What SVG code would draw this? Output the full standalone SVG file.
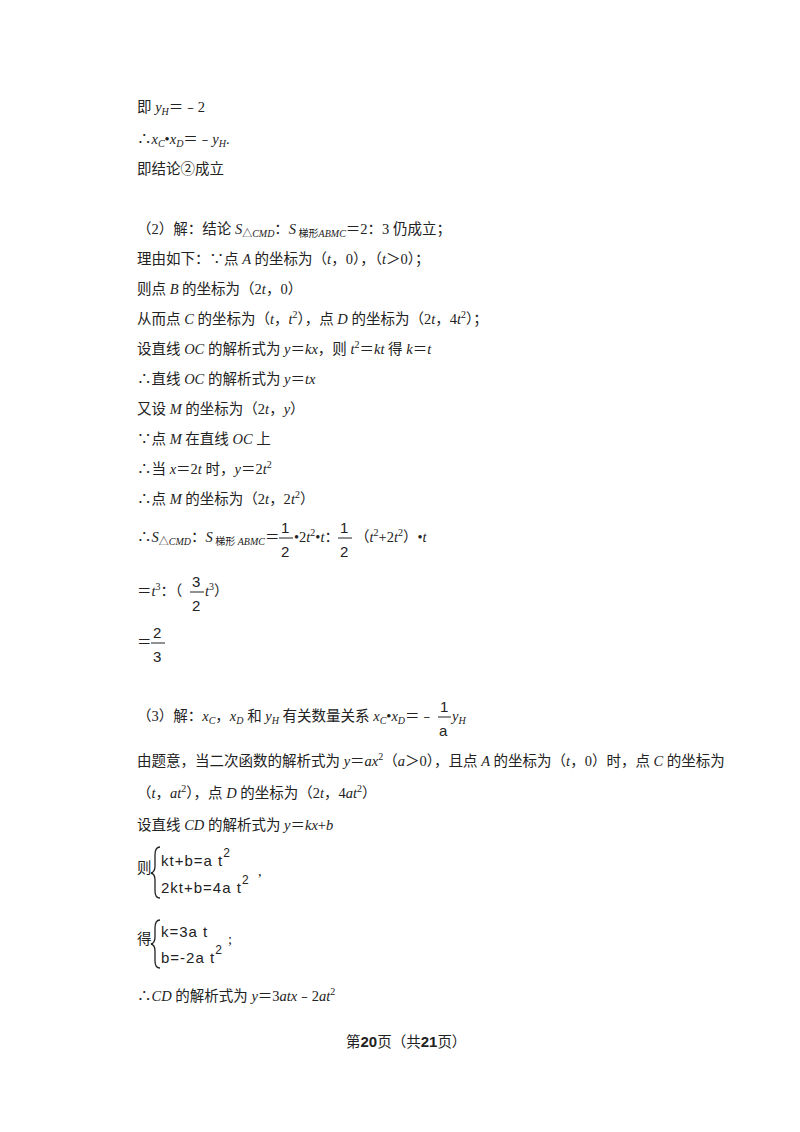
<svg xmlns="http://www.w3.org/2000/svg" width="800" height="1132" viewBox="0 0 800 1132">
<style>
text{font-family:"Liberation Serif","Noto Sans CJK SC",serif;font-size:14.5px;fill:#222}
.i{font-style:italic}
.s{font-size:10px}
.m{font-family:"Liberation Sans","Noto Sans CJK SC",sans-serif;font-size:15px}
.b{font-weight:bold;font-family:"Liberation Sans","Noto Sans CJK SC",sans-serif}
</style>
<rect width="800" height="1132" fill="#fff"/>
<text x="137" y="112">即 <tspan class="i">y</tspan><tspan class="i s" dy="3">H</tspan><tspan dy="-3">＝﹣2</tspan></text>
<text x="137" y="144">∴<tspan class="i">x</tspan><tspan class="i s" dy="3">C</tspan><tspan dy="-3">•</tspan><tspan class="i">x</tspan><tspan class="i s" dy="3">D</tspan><tspan dy="-3">＝﹣</tspan><tspan class="i">y</tspan><tspan class="i s" dy="3">H</tspan><tspan dy="-3">.</tspan></text>
<text x="137" y="174">即结论②成立</text>
<text x="137" y="234">（2）解：结论 <tspan class="i">S</tspan><tspan class="s" dy="3">△</tspan><tspan class="i s">CMD</tspan><tspan dy="-3">：</tspan><tspan class="i">S</tspan><tspan class="s" dy="3"> 梯形</tspan><tspan class="i s">ABMC</tspan><tspan dy="-3">＝2：3 仍成立；</tspan></text>
<text x="137" y="264">理由如下：∵点 <tspan class="i">A</tspan> 的坐标为（<tspan class="i">t</tspan>，0），（<tspan class="i">t</tspan>＞0）；</text>
<text x="137" y="294">则点 <tspan class="i">B</tspan> 的坐标为（2<tspan class="i">t</tspan>，0）</text>
<text x="137" y="324">从而点 <tspan class="i">C</tspan> 的坐标为（<tspan class="i">t</tspan>，<tspan class="i">t</tspan><tspan class="s" dy="-6">2</tspan><tspan dy="6">），点 </tspan><tspan class="i">D</tspan> 的坐标为（2<tspan class="i">t</tspan>，4<tspan class="i">t</tspan><tspan class="s" dy="-6">2</tspan><tspan dy="6">）；</tspan></text>
<text x="137" y="354">设直线 <tspan class="i">OC</tspan> 的解析式为 <tspan class="i">y</tspan>＝<tspan class="i">kx</tspan>，则 <tspan class="i">t</tspan><tspan class="s" dy="-6">2</tspan><tspan dy="6">＝</tspan><tspan class="i">kt</tspan> 得 <tspan class="i">k</tspan>＝<tspan class="i">t</tspan></text>
<text x="137" y="384">∴直线 <tspan class="i">OC</tspan> 的解析式为 <tspan class="i">y</tspan>＝<tspan class="i">tx</tspan></text>
<text x="137" y="414">又设 <tspan class="i">M</tspan> 的坐标为（2<tspan class="i">t</tspan>，<tspan class="i">y</tspan>）</text>
<text x="137" y="444">∵点 <tspan class="i">M</tspan> 在直线 <tspan class="i">OC</tspan> 上</text>
<text x="137" y="474">∴当 <tspan class="i">x</tspan>＝2<tspan class="i">t</tspan> 时，<tspan class="i">y</tspan>＝2<tspan class="i">t</tspan><tspan class="s" dy="-6">2</tspan></text>
<text x="137" y="504">∴点 <tspan class="i">M</tspan> 的坐标为（2<tspan class="i">t</tspan>，2<tspan class="i">t</tspan><tspan class="s" dy="-6">2</tspan><tspan dy="6">）</tspan></text>
<text x="137" y="542">∴<tspan class="i">S</tspan><tspan class="s" dy="3">△</tspan><tspan class="i s">CMD</tspan><tspan dy="-3">：</tspan><tspan class="i">S</tspan><tspan class="s" dy="3"> 梯形 </tspan><tspan class="i s">ABMC</tspan><tspan dy="-3">＝</tspan></text>
<text x="281" y="533" class="m">1</text><line x1="279" y1="538" x2="293" y2="538" stroke="#222"/><text x="281" y="557" class="m">2</text>
<text x="294" y="542">•2<tspan class="i">t</tspan><tspan class="s" dy="-6">2</tspan><tspan dy="6">•</tspan><tspan class="i">t</tspan>：</text>
<text x="340" y="533" class="m">1</text><line x1="338" y1="538" x2="352" y2="538" stroke="#222"/><text x="340" y="557" class="m">2</text>
<text x="355" y="542">（<tspan class="i">t</tspan><tspan class="s" dy="-6">2</tspan><tspan dy="6">+2</tspan><tspan class="i">t</tspan><tspan class="s" dy="-6">2</tspan><tspan dy="6">）•</tspan><tspan class="i">t</tspan></text>
<text x="137" y="596">＝<tspan class="i">t</tspan><tspan class="s" dy="-6">3</tspan><tspan dy="6">：（</tspan></text>
<text x="192" y="587" class="m">3</text><line x1="190" y1="592" x2="204" y2="592" stroke="#222"/><text x="192" y="611" class="m">2</text>
<text x="205" y="596"><tspan class="i">t</tspan><tspan class="s" dy="-6">3</tspan><tspan dy="6">）</tspan></text>
<text x="137" y="647">＝</text>
<text x="153" y="638" class="m">2</text><line x1="151" y1="643" x2="165" y2="643" stroke="#222"/><text x="153" y="662" class="m">3</text>
<text x="137" y="721">（3）解：<tspan class="i">x</tspan><tspan class="i s" dy="3">C</tspan><tspan dy="-3">，</tspan><tspan class="i">x</tspan><tspan class="i s" dy="3">D</tspan><tspan dy="-3"> 和 </tspan><tspan class="i">y</tspan><tspan class="i s" dy="3">H</tspan><tspan dy="-3"> 有关数量关系 </tspan><tspan class="i">x</tspan><tspan class="i s" dy="3">C</tspan><tspan dy="-3">•</tspan><tspan class="i">x</tspan><tspan class="i s" dy="3">D</tspan><tspan dy="-3">＝﹣</tspan></text>
<text x="440" y="712" class="m">1</text><line x1="438" y1="717" x2="451" y2="717" stroke="#222"/><text x="439" y="736" class="m">a</text>
<text x="452" y="721" class="i">y<tspan class="s" dy="3">H</tspan></text>
<text x="137" y="766">由题意，当二次函数的解析式为 <tspan class="i">y</tspan>＝<tspan class="i">ax</tspan><tspan class="s" dy="-6">2</tspan><tspan dy="6">（</tspan><tspan class="i">a</tspan>＞0），且点 <tspan class="i">A</tspan> 的坐标为（<tspan class="i">t</tspan>，0）时，点 <tspan class="i">C</tspan> 的坐标为</text>
<text x="137" y="798">（<tspan class="i">t</tspan>，<tspan class="i">at</tspan><tspan class="s" dy="-6">2</tspan><tspan dy="6">），点 </tspan><tspan class="i">D</tspan> 的坐标为（2<tspan class="i">t</tspan>，4<tspan class="i">at</tspan><tspan class="s" dy="-6">2</tspan><tspan dy="6">）</tspan></text>
<text x="137" y="830">设直线 <tspan class="i">CD</tspan> 的解析式为 <tspan class="i">y</tspan>＝<tspan class="i">kx</tspan>+<tspan class="i">b</tspan></text>
<text x="137" y="873">则</text>
<path d="M160 847 Q155 847 155 855 L155 866 Q155 872 151 873 Q155 874 155 880 L155 891 Q155 898 160 898" fill="none" stroke="#222" stroke-width="1.3"/>
<text x="161" y="866" class="m" letter-spacing="1">kt+b=a t<tspan dy="-9" font-size="12">2</tspan></text>
<text x="161" y="893" class="m" letter-spacing="1">2kt+b=4a t<tspan dy="-9" font-size="12">2</tspan></text>
<text x="258" y="876">,</text>
<text x="137" y="944">得</text>
<path d="M160 920 Q155 920 155 928 L155 937 Q155 943 151 944 Q155 945 155 951 L155 961 Q155 968 160 968" fill="none" stroke="#222" stroke-width="1.3"/>
<text x="161" y="937" class="m" letter-spacing="1">k=3a t</text>
<text x="161" y="963" class="m" letter-spacing="1">b=-2a t<tspan dy="-9" font-size="12">2</tspan></text>
<text x="228" y="944">;</text>
<text x="137" y="1001">∴<tspan class="i">CD</tspan> 的解析式为 <tspan class="i">y</tspan>＝3<tspan class="i">atx</tspan>﹣2<tspan class="i">at</tspan><tspan class="s" dy="-6">2</tspan></text>
<text x="346" y="1047" font-size="13">第<tspan class="b" font-size="15">20</tspan>页（共<tspan class="b" font-size="15">21</tspan>页）</text>
</svg>
